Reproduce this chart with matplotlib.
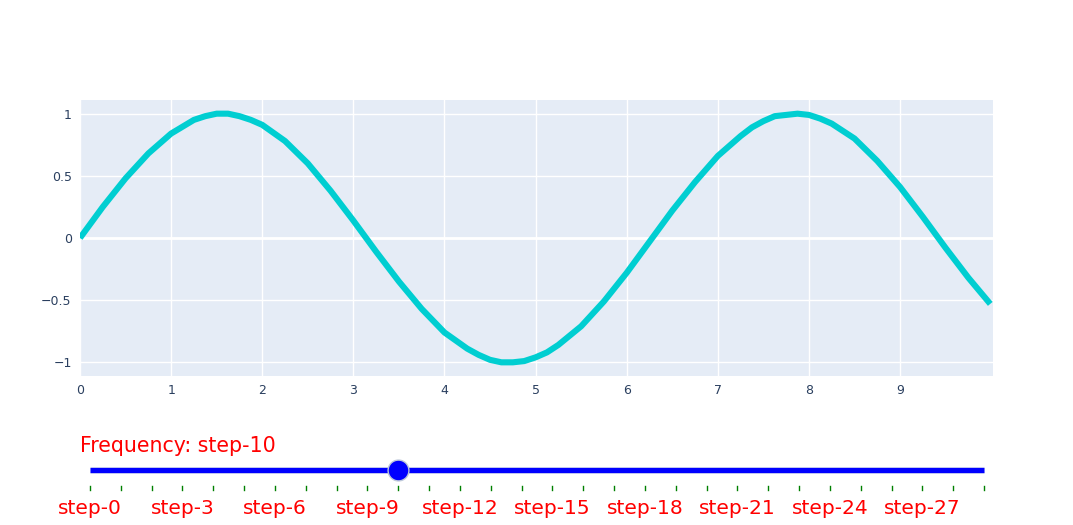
import matplotlib
matplotlib.use("Agg")
import matplotlib.pyplot as plt

# curve points (frequency step-10)
x_vals = [0, 0.25, 0.5, 0.75, 1, 1.25, 1.375, 1.5, 1.625, 1.75, 1.875, 2, 2.25, 2.5,
          2.75, 3, 3.25, 3.5, 3.75, 4, 4.25, 4.375, 4.5, 4.625, 4.75, 4.875, 5, 5.125,
          5.25, 5.5, 5.75, 6, 6.25, 6.5, 6.75, 7, 7.25, 7.375, 7.5, 7.625, 7.75, 7.875,
          8, 8.125, 8.25, 8.5, 8.75, 9, 9.25, 9.5, 9.75, 9.99]
y_vals = [0, 0.25, 0.48, 0.68, 0.84, 0.95, 0.98, 1.00, 1.00, 0.98, 0.95, 0.91, 0.78,
          0.60, 0.38, 0.14, -0.11, -0.35, -0.57, -0.76, -0.89, -0.94, -0.98, -1.00,
          -1.00, -0.99, -0.96, -0.92, -0.86, -0.71, -0.51, -0.28, -0.03, 0.22, 0.45,
          0.66, 0.82, 0.89, 0.94, 0.98, 0.99, 1.00, 0.99, 0.96, 0.92, 0.80, 0.62, 0.41,
          0.17, -0.08, -0.32, -0.53]
x_ticks = [0, 1, 2, 3, 4, 5, 6, 7, 8, 9]
y_ticks = [-1, -0.5, 0, 0.5, 1]
y_ticklabels = ["\u22121", "\u22120.5", "0", "0.5", "1"]

# slider
n_steps = 30
active_step = 10
label_steps = list(range(0, n_steps, 3))
slider_prefix = "Frequency: "

W, H = 1073, 525
fig = plt.figure(figsize=(W / 100, H / 100), dpi=100)
plt.rcParams['font.family'] = ['DejaVu Sans']

ax = fig.add_axes([80 / W, 1 - 376 / H, (993 - 80) / W, (376 - 100) / H])
ax.set_facecolor('#E5ECF6')
ax.plot(x_vals, y_vals, color='#00CED1', lw=4.4, solid_capstyle='butt',
        solid_joinstyle='round', zorder=3)
ax.set_xlim(0, 10.02)
ax.set_ylim(-1.11, 1.11)
ax.set_xticks(x_ticks)
ax.set_yticks(y_ticks)
ax.set_yticklabels(y_ticklabels)
ax.grid(True, color='white', lw=1)
ax.axhline(0, color='white', lw=2, zorder=2)
ax.set_axisbelow(True)
for s in ax.spines.values():
    s.set_visible(False)
ax.tick_params(length=0, labelsize=9, colors='#2a3f5f', pad=6)

# slider axes, y in pixels below y=430
sl = fig.add_axes([90 / W, 0, (984 - 90) / W, 95 / H])
sl.set_xlim(0, n_steps - 1)
sl.set_ylim(95, 0)
sl.axis('off')
sl.plot([0, n_steps - 1], [40, 40], color='#dfe5ee', lw=5, solid_capstyle='butt', clip_on=False)
sl.plot([0, n_steps - 1], [40, 40], color='blue', lw=3.8, solid_capstyle='butt', clip_on=False)
for i in range(n_steps):
    sl.plot([i, i], [56, 60], color='green', lw=1, clip_on=False)
for i in label_steps:
    sl.text(i, 78, "step-%d" % i, color='red', fontsize=14.5, ha='center', va='center')
sl.plot([active_step], [40], 'o', ms=15, color='blue', mec='#bec8d9', mew=1, clip_on=False, zorder=5)
sl.text(-10 / ((984 - 90) / (n_steps - 1)), 16, slider_prefix + "step-%d" % active_step,
        color='red', fontsize=14.8, ha='left', va='center')

fig.savefig('out.png', dpi=100)
